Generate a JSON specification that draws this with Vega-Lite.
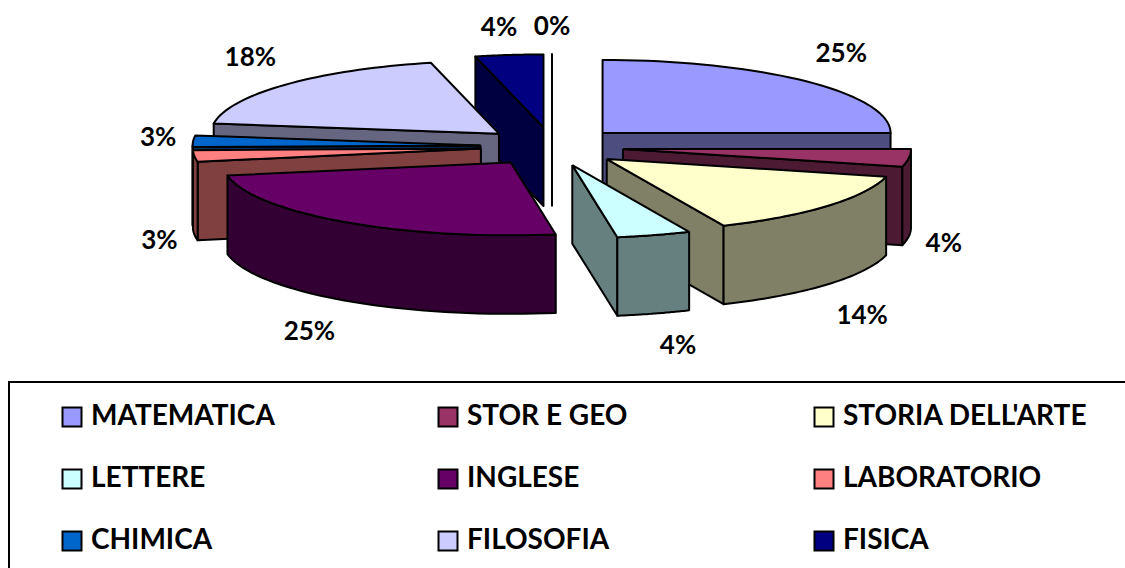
{
"$schema":"https://vega.github.io/schema/vega-lite/v6.json",
"width":1125,"height":568,"padding":0,"autosize":{"type":"none"},
"background":"white",
"config":{"view":{"stroke":null},"legend":{"strokeWidth":2}},
"data":{"values":[
{"n":1,"subject":"MATEMATICA","label":"25%","drawn":25},
{"n":2,"subject":"STOR E GEO","label":"4%","drawn":3.9},
{"n":3,"subject":"STORIA DELL'ARTE","label":"14%","drawn":14.45},
{"n":9,"subject":"FISICA","label":"4%","drawn":3.8},
{"n":10,"subject":"ALTRO","label":"0%","drawn":0},
{"n":8,"subject":"FILOSOFIA","label":"18%","drawn":19},
{"n":7,"subject":"CHIMICA","label":"3%","drawn":2.55},
{"n":6,"subject":"LABORATORIO","label":"3%","drawn":2.55},
{"n":5,"subject":"INGLESE","label":"25%","drawn":24.6},
{"n":4,"subject":"LETTERE","label":"4%","drawn":4.15}
]},
"transform":[
{"window":[{"op":"sum","field":"drawn","as":"cum"}],"sort":[{"field":"n","order":"ascending"}],"frame":[null,0]},
{"calculate":"(datum.cum-datum.drawn)*3.6*PI/180","as":"a0"},
{"calculate":"datum.cum*3.6*PI/180","as":"a1"},
{"calculate":"(datum.a0+datum.a1)/2","as":"mid"},
{"calculate":"552+71.5*sin(datum.mid)","as":"cx"},
{"calculate":"146.6-19.3*cos(datum.mid)","as":"cy"}
],
"layer":[
{
"transform":[
{"calculate":"['start','end','outer','top']","as":"parts"},
{"flatten":["parts"],"as":["part"]},
{"calculate":"max(datum.a0,PI/2)","as":"lo"},
{"calculate":"min(datum.a1,3*PI/2)","as":"hi"},
{"filter":"datum.part=='top' || (datum.part=='start' && (datum.drawn==0 || sin(datum.a0)<-0.001)) || (datum.part=='end' && sin(datum.a1)>0.001) || (datum.part=='outer' && datum.hi>datum.lo)"},
{"calculate":"sequence(0, datum.part=='top'?43:(datum.part=='outer'?83:5))","as":"idx"},
{"flatten":["idx"],"as":["i"]},
{"calculate":"datum.part=='top'?(datum.i==0||datum.i==42?0:1):(datum.part=='outer'?1:(datum.i==1||datum.i==2?1:0))","as":"r"},
{"calculate":"datum.part=='top'?datum.a0+(datum.i-1)/40*(datum.a1-datum.a0):(datum.part=='outer'?datum.lo+(datum.i<=40?datum.i:(datum.i<=81?81-datum.i:0))/40*(datum.hi-datum.lo):(datum.part=='start'?datum.a0:datum.a1))","as":"ang"},
{"calculate":"datum.part=='top'?0:(datum.part=='outer'?(datum.i>40&&datum.i<=81?78.5:0):(datum.i==2||datum.i==3?78.5:0))","as":"drop"},
{"calculate":"datum.cx+288*datum.r*sin(datum.ang)","as":"px"},
{"calculate":"datum.cy-73*datum.r*cos(datum.ang)+datum.drop","as":"py"},
{"calculate":"datum.part=='top'?datum.subject:datum.subject+' lato'","as":"face"},
{"calculate":"datum.subject+' '+datum.part","as":"poly"}
],
"mark":{"type":"line","filled":true,"stroke":"black","strokeWidth":2,"strokeJoin":"round","clip":false},
"encoding":{
"x":{"field":"px","type":"quantitative","scale":{"domain":[0,1125],"nice":false,"zero":false},"axis":null},
"y":{"field":"py","type":"quantitative","scale":{"domain":[568,0],"nice":false,"zero":false},"axis":null},
"order":{"field":"i","type":"quantitative"},
"detail":{"field":"poly"},
"fill":{"field":"face","type":"nominal",
"scale":{
"domain":["MATEMATICA","STOR E GEO","STORIA DELL'ARTE","LETTERE","INGLESE","LABORATORIO","CHIMICA","FILOSOFIA","FISICA","ALTRO","MATEMATICA lato","STOR E GEO lato","STORIA DELL'ARTE lato","LETTERE lato","INGLESE lato","LABORATORIO lato","CHIMICA lato","FILOSOFIA lato","FISICA lato","ALTRO lato"],
"range":["#9999FF","#993366","#FFFFCC","#CCFFFF","#660066","#FF8080","#0066CC","#CCCCFF","#000080","#FF00FF","#4D4D80","#4D1A33","#808066","#668080","#330033","#804040","#003366","#666680","#000040","#800080"]},
"legend":{"values":["MATEMATICA","STOR E GEO","STORIA DELL'ARTE","LETTERE","INGLESE","LABORATORIO","CHIMICA","FILOSOFIA","FISICA"],
"title":"\u00a0","titleOrient":"right","titlePadding":60,"titleFontSize":10,"orient":"none","direction":"horizontal","legendX":9,"legendY":382,"columns":3,"gridAlign":"all","padding":21,
"strokeColor":"black","symbolType":"square","symbolSize":361,"symbolStrokeColor":"black","symbolStrokeWidth":2,"symbolOffset":28,
"labelFont":"Lato","labelFontSize":28,"labelFontWeight":"bold","labelColor":"black","labelLimit":400,"labelOffset":5,
"rowPadding":34,"columnPadding":70}
}
}
},
{
"transform":[
{"calculate":"datum.cx+288*sin(datum.mid)+clamp(sin(datum.mid)*85,-35,35)","as":"lx"},
{"calculate":"datum.cy-73*cos(datum.mid)+(cos(datum.mid)<0?78.5:0)+clamp(-cos(datum.mid)*60,-27,32)","as":"ly"}
],
"mark":{"type":"text","font":"Lato","fontSize":26,"fontWeight":"bold","color":"black","align":"center","baseline":"middle"},
"encoding":{
"x":{"field":"lx","type":"quantitative","scale":{"domain":[0,1125],"nice":false,"zero":false},"axis":null},
"y":{"field":"ly","type":"quantitative","scale":{"domain":[568,0],"nice":false,"zero":false},"axis":null},
"text":{"field":"label","type":"nominal"}
}
}
]
}
